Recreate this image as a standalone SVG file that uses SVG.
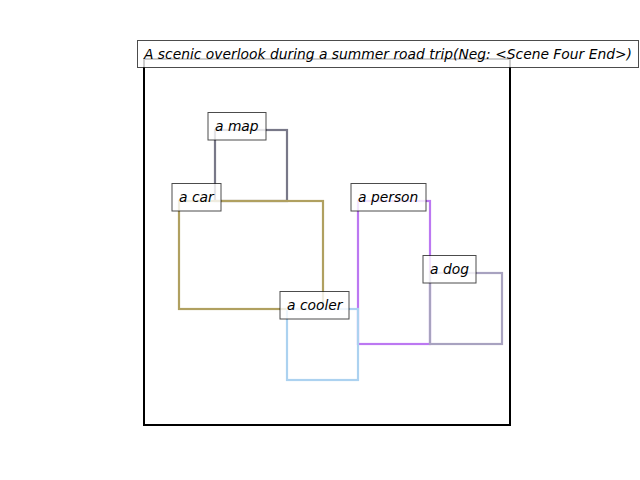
<svg xmlns="http://www.w3.org/2000/svg" width="640" height="480" viewBox="0 0 640 480">
<style>
.box{fill:none;stroke-width:2.2}
.lbl{fill:#fff;fill-opacity:0.8;stroke:#000;stroke-opacity:0.7;stroke-width:1}
text{font-family:"DejaVu Sans",sans-serif;font-style:italic;font-size:13.85px;fill:#000}
</style>
<rect x="0" y="0" width="640" height="480" fill="#fff"/>
<rect x="144" y="59" width="366" height="366" fill="none" stroke="#000" stroke-width="2"/>
<g id="connectors"></g>
<g id="map">
<rect class="box" x="215" y="130" width="72" height="71" stroke="#787888"/>
<rect class="lbl" x="208" y="112.5" width="58" height="27.5"/>
<text x="215" y="131">a map</text>
</g>
<g id="car">
<rect class="box" x="179" y="201" width="144" height="108" stroke="#b0a060"/>
<rect class="lbl" x="172" y="183.5" width="49" height="27.5"/>
<text x="179" y="202">a car</text>
</g>
<g id="person">
<rect class="box" x="358" y="201" width="72" height="143" stroke="#bc78f2"/>
<rect class="lbl" x="351" y="183.5" width="75" height="27.5"/>
<text x="358" y="202">a person</text>
</g>
<g id="dog">
<rect class="box" x="430" y="273" width="72" height="71" stroke="#a8a2c0"/>
<rect class="lbl" x="423" y="255.5" width="53" height="27.5"/>
<text x="430" y="274">a dog</text>
</g>
<g id="cooler">
<rect class="box" x="287" y="309" width="71" height="71" stroke="#acd2f0"/>
<rect class="lbl" x="280" y="291.5" width="69" height="27.5"/>
<text x="287" y="310">a cooler</text>
</g>
<g id="title">
<rect class="lbl" x="137.5" y="40.5" width="501" height="27"/>
<text x="144" y="59">A scenic overlook during a summer road trip(Neg: &lt;Scene Four End&gt;)</text>
</g>
</svg>
